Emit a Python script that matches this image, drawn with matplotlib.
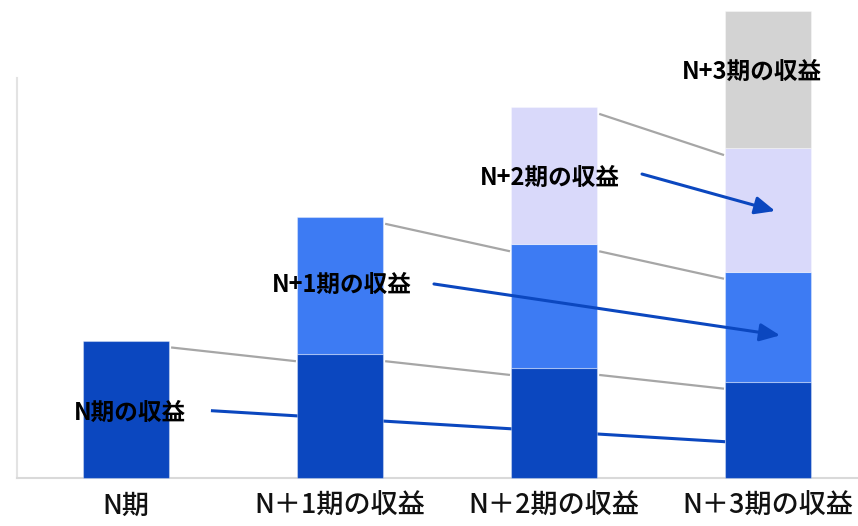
import matplotlib
matplotlib.use("Agg")
import matplotlib.pyplot as plt
from matplotlib.patches import FancyArrowPatch
import numpy as np

plt.rcParams['font.family'] = ['Noto Sans CJK JP', 'DejaVu Sans']

# ---- data ----
categories = ["N期", "N＋1期の収益", "N＋2期の収益", "N＋3期の収益"]
# revenue from each cohort period, per column
rev_N  = [100, 90, 80, 70]
rev_N1 = [0, 100, 90, 80]
rev_N2 = [0, 0, 100, 90]
rev_N3 = [0, 0, 0, 100]
series = [rev_N, rev_N1, rev_N2, rev_N3]
series_start = [0, 1, 2, 3]          # first column where each series appears
series_labels = ["N期の収益", "N+1期の収益", "N+2期の収益", "N+3期の収益"]
colors = ["#0B47BF", "#3D7BF3", "#D9D9FA", "#D3D3D3"]

# annotation geometry (data coordinates)
label_pos = [(0.02, 47.5), (1.01, 140.5), (1.98, 218.5), (2.925, 295.5)]
arrow_start = [(0.397, 49.0), (1.439, 141.2), (2.411, 221.2)]
arrow_end = [(2.80, 26.4), (3.056, 103.8), (3.033, 194.3)]
arrow_head = [False, True, True]

W, H, DPI = 858, 526, 100
fig = plt.figure(figsize=(W / DPI, H / DPI), dpi=DPI)
ax = fig.add_axes([17 / W, 48 / H, 841 / W, 400 / H])

x = np.arange(len(categories))
bw = 86 / 214
bottoms = np.zeros(len(categories))
for s, (vals, st, c) in enumerate(zip(series, series_start, colors)):
    vals = np.array(vals, dtype=float)
    xs = x[st:]
    ax.bar(xs, vals[st:], bw, bottom=bottoms[st:], color=c,
           edgecolor=(1, 1, 1, 0.35), linewidth=0.8, zorder=3, clip_on=False)
    bottoms = bottoms + vals

# gray connector lines between segment tops
cum = np.cumsum(np.array(series, dtype=float), axis=0)
off = 5
for s, st in enumerate(series_start):
    for i in range(st, len(categories) - 1):
        y0 = cum[s][i] - off
        y1 = cum[s][i + 1] - off
        ax.plot([x[i] + bw / 2 + 0.01, x[i + 1] - bw / 2 - 0.005], [y0, y1],
                color="#A6A6A6", lw=1.6, zorder=2, solid_capstyle='butt',
                clip_on=False)

# blue lines / arrows
for (p0, p1, head) in zip(arrow_start, arrow_end, arrow_head):
    if head:
        arr = FancyArrowPatch(p0, p1, arrowstyle='-|>,head_length=1.22,head_width=0.54',
                              mutation_scale=10, color="#0B47BF", lw=2.2,
                              shrinkA=0, shrinkB=0, zorder=5, clip_on=False)
        ax.add_patch(arr)
    else:
        ax.plot([p0[0], p1[0]], [p0[1], p1[1]], color="#0B47BF", lw=2.2,
                zorder=2, solid_capstyle='butt')

for (lx, ly), t in zip(label_pos, series_labels):
    ax.text(lx, ly, t, ha='center', va='center', fontsize=17,
            fontweight='bold', color='black', zorder=6)

ax.set_xlim(-0.509, 3.42)
ax.set_ylim(0, 291.1)
ax.set_xticks(x)
ax.set_xticklabels(categories, fontsize=19.5, fontweight='medium', color='#111111')
ax.tick_params(axis='x', length=0, pad=11)
ax.set_yticks([])
for sp in ['top', 'right']:
    ax.spines[sp].set_visible(False)
ax.spines['left'].set_color('#E3E3E3')
ax.spines['bottom'].set_color('#D9D9D9')
ax.spines['left'].set_linewidth(1.5)
ax.spines['bottom'].set_linewidth(1.5)

fig.savefig("out.png", dpi=DPI)
